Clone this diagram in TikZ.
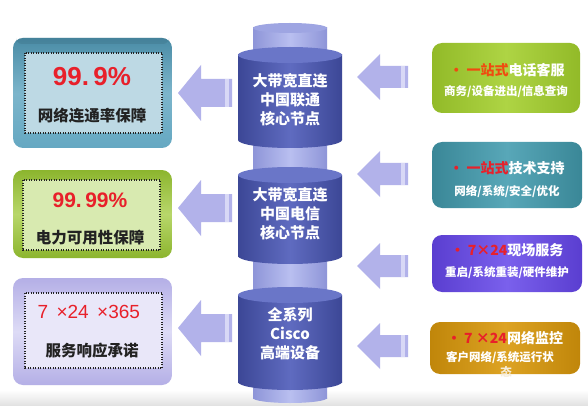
\documentclass[tikz,border=0pt]{standalone}
\usepackage{fontspec}
\setmainfont{Liberation Sans}
\newfontfamily\cjk{Noto Sans CJK SC}
\definecolor{tealE}{HTML}{4A8CA6}
\definecolor{tealM}{HTML}{65A8C2}
\definecolor{tealI}{HTML}{BDD9E4}
\definecolor{grnE}{HTML}{8CB52E}
\definecolor{grnM}{HTML}{A6CD45}
\definecolor{grnI}{HTML}{D8EAB0}
\definecolor{lavE}{HTML}{B4AFE6}
\definecolor{lavM}{HTML}{CFCCF2}
\definecolor{lavI}{HTML}{E9E7F9}
\definecolor{arr}{HTML}{B2B2EA}
\definecolor{arrL}{HTML}{D8D8F6}
\definecolor{bigE}{HTML}{3C4796}
\definecolor{bigM}{HTML}{5F6BC0}
\definecolor{bigT}{HTML}{6A76C8}
\definecolor{nrwE}{HTML}{8E95D8}
\definecolor{nrwM}{HTML}{B9BFF0}
\definecolor{nrwT}{HTML}{9EA5E2}
\definecolor{rGE}{HTML}{92BA28}
\definecolor{rGM}{HTML}{AED444}
\definecolor{rTE}{HTML}{3A8797}
\definecolor{rTM}{HTML}{58A7B8}
\definecolor{rPE}{HTML}{5A3ED0}
\definecolor{rPM}{HTML}{7A60EC}
\definecolor{rOE}{HTML}{C0860A}
\definecolor{rOM}{HTML}{DDA323}
\definecolor{redT}{HTML}{E8202A}
\definecolor{orT}{HTML}{F04A10}
\definecolor{darkT}{HTML}{222222}
\newcommand\mycyl[8]{%
  \shade[left color=#6,right color=#6,middle color=#7] (#1-#2,#3) rectangle (#1+#2,#4);
  \shade[left color=#6,right color=#6,middle color=#7] (#1,#4) ellipse[x radius=#2,y radius=#5];
  \fill[#8] (#1,#3) ellipse[x radius=#2,y radius=#5];
}
\newcommand\myarrow[6]{% tipx, y, headx, backx, headhalf, shafthalf
  \fill[arr] (#1,#2) -- (#3,#2-#5) -- (#3,#2-#6) -- (#4,#2-#6) -- (#4,#2+#6) -- (#3,#2+#6) -- (#3,#2+#5) -- cycle;
  \fill[arrL] (#4-7,#2-#6) rectangle (#4-3,#2+#6);
}
\tikzset{
  lbox/.style={rounded corners=10pt},
  inner/.style={draw=darkT, line width=1.1pt, dash pattern=on 0.9pt off 1.6pt},
  ctext/.style={font=\cjk\bfseries\fontsize{15}{19}\selectfont, text=white, align=center},
  ltext/.style={font=\cjk\bfseries\fontsize{15.5}{18}\selectfont, text=darkT},
  rtext1/.style={font=\cjk\bfseries\fontsize{14}{16}\selectfont, text=white},
  rtext2/.style={font=\cjk\bfseries\fontsize{11.5}{14}\selectfont, text=white},
}
\begin{document}
\begin{tikzpicture}[x=1pt,y=-1pt]
\useasboundingbox (0,0) rectangle (588,406);
\fill[white] (0,0) rectangle (588,406);
\shade[top color=white,bottom color=black!12] (0,390) rectangle (588,406);

% ---------- centre column ----------
\mycyl{290}{37}{28}{60}{5}{nrwE}{nrwM}{nrwT}
\mycyl{290}{37}{140}{180}{5}{nrwE}{nrwM}{nrwT}
\mycyl{290}{37}{256}{300}{5}{nrwE}{nrwM}{nrwT}
\mycyl{290}{37}{375}{398}{5}{nrwE}{nrwM}{nrwT}
\mycyl{290}{52}{55}{140}{8}{bigE}{bigM}{bigT}
\mycyl{290}{52}{175}{256}{8}{bigE}{bigM}{bigT}
\mycyl{290}{52}{295}{382}{8}{bigE}{bigM}{bigT}
\node[ctext] (c1) at (290,100) {大带宽直连\\中国联通\\核心节点};
\node[ctext] (c2) at (290,214) {大带宽直连\\中国电信\\核心节点};
\node[ctext] (c3) at (290,334) {全系列\\Cisco\\高端设备};

% ---------- left boxes ----------
\shade[lbox, top color=tealE, bottom color=tealM, middle color=tealM!85!white] (13,38) rectangle (172,148);
\fill[tealE!80!black, opacity=0.35, rounded corners=6pt] (16,38) rectangle (169,44);
\fill[tealI] (25,53) rectangle (162,133);
\draw[inner] (25,53) rectangle (162,133);
\node[font=\bfseries\fontsize{26}{28}\selectfont, text=redT] (l1a) at (92,77) {99.\,9\%};
\node[ltext] (l1b) at (92,116) {网络连通率保障};

\shade[lbox, top color=grnE, bottom color=grnE, middle color=grnM!80!white] (13,170) rectangle (172,258);
\fill[grnI] (23,180) rectangle (160,250);
\draw[inner] (23,180) rectangle (160,250);
\node[font=\bfseries\fontsize{21}{24}\selectfont, text=redT] (l2a) at (90,200) {99.\,99\%};
\node[ltext] (l2b) at (90,238) {电力可用性保障};

\shade[lbox, top color=lavE, bottom color=lavE, middle color=lavM!70!white] (13,278) rectangle (172,385);
\fill[lavI] (25,293) rectangle (162,368);
\draw[inner] (25,293) rectangle (162,368);
\node[font=\fontsize{19}{22}\selectfont, text=redT, anchor=west] (l3a) at (34,312) {7 \,×24 \,×365};
\node[ltext] (l3b) at (92,351) {服务响应承诺};

% ---------- left arrows ----------
\myarrow{178}{93}{201}{232}{28}{14}
\myarrow{178}{208}{201}{232}{28}{14}
\myarrow{178}{328}{201}{232}{28}{14}

% ---------- right arrows ----------
\myarrow{357}{77}{380}{408}{23}{11}
\myarrow{357}{174}{380}{408}{23}{11}
\myarrow{357}{266}{380}{408}{23}{11}
\myarrow{357}{346}{380}{408}{23}{11}

% ---------- right boxes ----------
\shade[lbox, left color=rGE, right color=rGE, middle color=rGM] (432,43) rectangle (580,113);
\node[rtext1] (r1a) at (507,70) {\textcolor{orT}{· 一站式}电话客服};
\node[rtext2] (r1b) at (506,92) {商务/设备进出/信息查询};

\shade[lbox, left color=rTE, right color=rTE, middle color=rTM] (432,142) rectangle (582,208);
\node[rtext1] (r2a) at (507,168) {\textcolor{redT}{· 一站式}技术支持};
\node[rtext2] (r2b) at (507,192) {网络/系统/安全/优化};

\shade[lbox, left color=rPE, right color=rPE, middle color=rPM] (432,235) rectangle (582,292);
\node[rtext1] (r3a) at (507,250) {\textcolor{redT}{· 7×24}现场服务};
\node[rtext2] (r3b) at (507,273) {重启/系统重装/硬件维护};

\shade[lbox, left color=rOE, right color=rOE, middle color=rOM] (430,322) rectangle (580,374);
\node[rtext1] (r4a) at (505,338) {\textcolor{redT}{· 7 ×24}网络监控};
\node[rtext2] (r4b) at (500,358) {客户网络/系统运行状};
\node[rtext2, text=white!85!rOE] (r4c) at (506,372) {态};
\end{tikzpicture}
\end{document}
